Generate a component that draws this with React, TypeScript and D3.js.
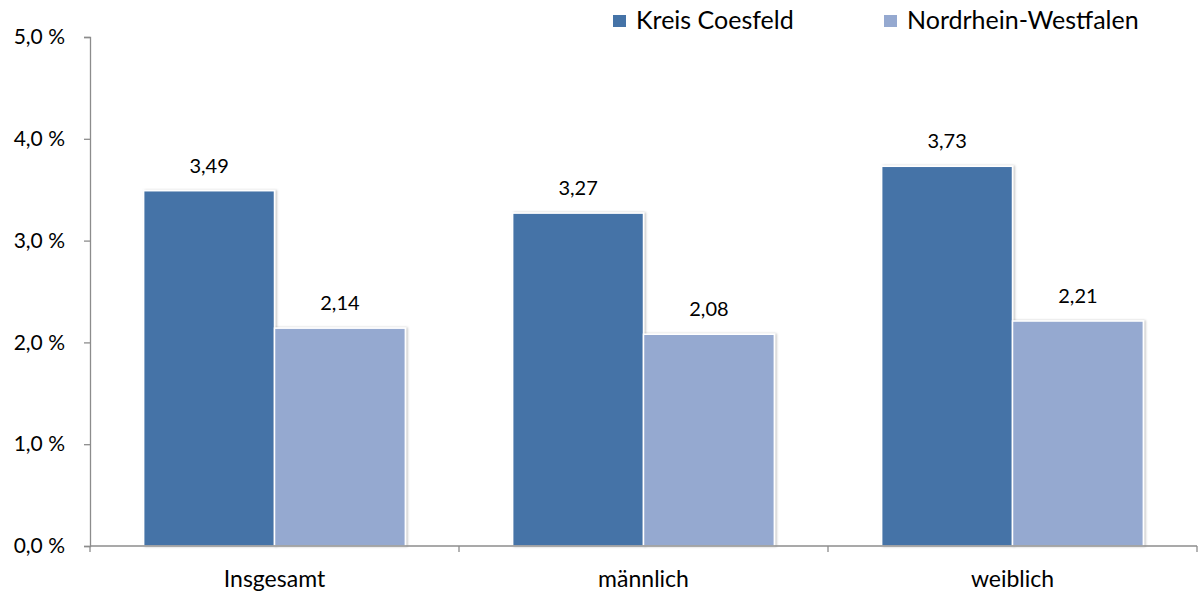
import React, { useEffect, useRef } from 'react';
import * as d3 from 'd3';

const categories = ['Insgesamt', 'männlich', 'weiblich'];
const seriesNames = ['Kreis Coesfeld', 'Nordrhein-Westfalen'];
const kreisValues = [3.49, 3.27, 3.73];
const nrwValues = [2.14, 2.08, 2.21];
const yTicks = [0, 1, 2, 3, 4, 5];
const colors = ['#4573a7', '#95a9d0'];

const W = 1198;
const H = 594;
const FONT = 'Lato, "Open Sans", sans-serif';

const fmt = (v: number, digits: number) => v.toFixed(digits).replace('.', ',');

const App: React.FC = () => {
  const svgRef = useRef<SVGSVGElement>(null);

  useEffect(() => {
    if (!svgRef.current) return;
    const svg = d3.select(svgRef.current);
    svg.selectAll('*').remove();

    const left = 90;
    const right = 1197;
    const top = 37;
    const bottom = 546;

    const defs = svg.append('defs');
    const filter = defs.append('filter').attr('id', 'shadow').attr('x', '-5%').attr('y', '-5%').attr('width', '115%').attr('height', '115%');
    filter.append('feDropShadow')
      .attr('dx', 1.5).attr('dy', 0).attr('stdDeviation', 1.2)
      .attr('flood-color', '#000').attr('flood-opacity', 0.25);

    const x = d3.scaleBand().domain(categories).range([left, right]).paddingInner(0).paddingOuter(0);
    const y = d3.scaleLinear().domain([0, 5]).range([bottom, top]);
    const inner = d3.scaleBand().domain(seriesNames).range([0, x.bandwidth()]).paddingOuter(0.41).paddingInner(0.0);

    const data = categories.map((c, i) => ({ cat: c, values: [kreisValues[i], nrwValues[i]] }));

    // y axis
    const yAxis = d3.axisLeft(y).tickValues(yTicks).tickSize(6).tickFormat(d => fmt(d as number, 1) + ' %');
    const yg = svg.append('g').attr('transform', `translate(${left},0)`).call(yAxis as any);
    yg.select('.domain').attr('stroke', '#8c8c8c').attr('stroke-width', 1.3);
    yg.selectAll('.tick line').attr('stroke', '#8c8c8c').attr('stroke-width', 1.3);
    yg.selectAll('.tick text')
      .attr('x', -25)
      .attr('font-family', FONT).attr('font-size', 21).attr('fill', '#000');

    // bars
    const groups = svg.append('g').selectAll('g').data(data).enter().append('g')
      .attr('transform', d => `translate(${x(d.cat)},0)`);

    groups.selectAll('rect')
      .data(d => d.values.map((v, j) => ({ v, name: seriesNames[j], j })))
      .enter().append('rect')
      .attr('x', d => inner(d.name)!)
      .attr('y', d => y(d.v))
      .attr('width', inner.bandwidth())
      .attr('height', d => bottom - y(d.v))
      .attr('fill', d => colors[d.j])
      .attr('stroke', '#fff')
      .attr('stroke-width', 1.5)
      .attr('filter', 'url(#shadow)');

    groups.selectAll('text')
      .data(d => d.values.map((v, j) => ({ v, name: seriesNames[j] })))
      .enter().append('text')
      .attr('x', d => inner(d.name)! + inner.bandwidth() / 2)
      .attr('y', d => y(d.v) - 18)
      .attr('text-anchor', 'middle')
      .attr('font-family', FONT).attr('font-size', 20).attr('fill', '#000')
      .text(d => fmt(d.v, 2));

    // x axis
    const xAxis = d3.axisBottom(x).tickSize(0).tickFormat(d => d as string);
    const xg = svg.append('g').attr('transform', `translate(0,${bottom})`).call(xAxis as any);
    xg.select('.domain').remove();
    xg.selectAll('.tick text')
      .attr('y', 41)
      .attr('dy', 0)
      .attr('font-family', FONT).attr('font-size', 23).attr('fill', '#000');
    svg.append('line').attr('x1', left).attr('x2', right).attr('y1', bottom).attr('y2', bottom)
      .attr('stroke', '#8c8c8c').attr('stroke-width', 1.3);
    const boundaries = [left, ...categories.map(c => x(c)! + x.bandwidth())];
    svg.append('g').selectAll('line').data(boundaries).enter().append('line')
      .attr('x1', d => d).attr('x2', d => d)
      .attr('y1', bottom).attr('y2', bottom + 6)
      .attr('stroke', '#8c8c8c').attr('stroke-width', 1.3);

    // legend
    const legendX = [613, 884];
    const lg = svg.append('g').selectAll('g').data(seriesNames).enter().append('g')
      .attr('transform', (_d, i) => `translate(${legendX[i]},0)`);
    lg.append('rect').attr('x', 0).attr('y', 15).attr('width', 13).attr('height', 12)
      .attr('fill', (_d, i) => colors[i]);
    lg.append('text').attr('x', 23).attr('y', 29)
      .attr('font-family', FONT).attr('font-size', 25).attr('fill', '#000')
      .text(d => d);
  }, []);

  return (
    <svg
      ref={svgRef}
      width={W}
      height={H}
      viewBox={`0 0 ${W} ${H}`}
      style={{ position: 'absolute', left: 0, top: 0, background: '#fff' }}
    />
  );
};

export default App;
